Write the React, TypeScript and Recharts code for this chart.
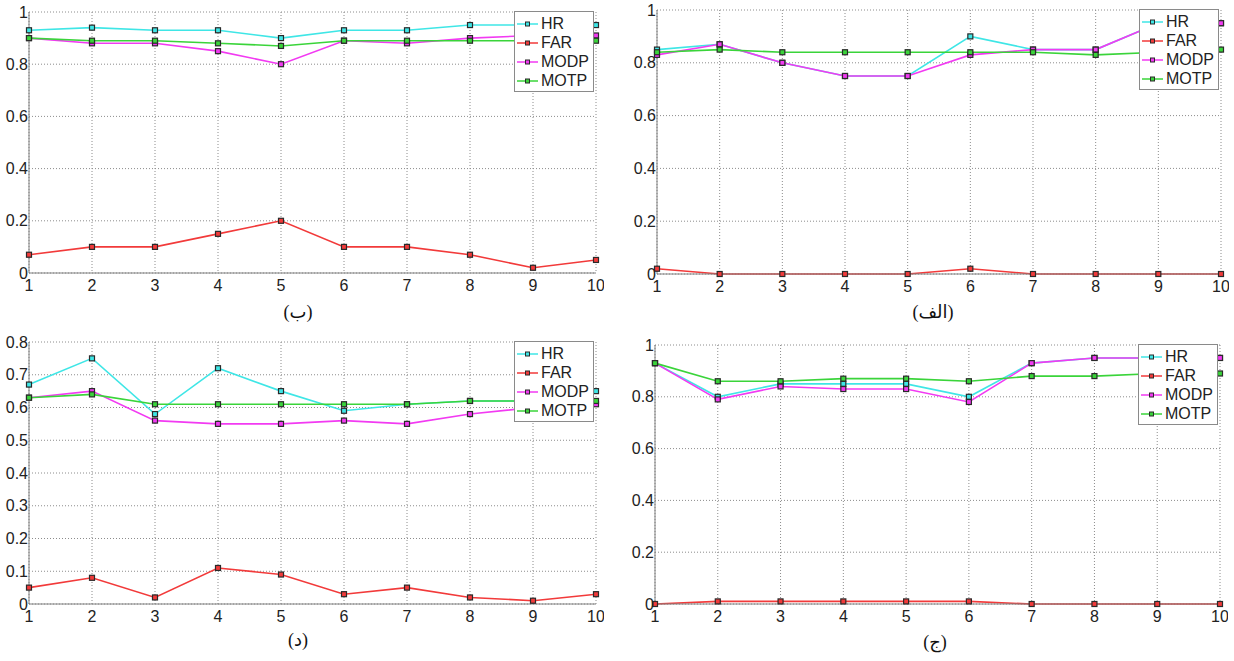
import React from "react";
import { LineChart, Line, XAxis, YAxis, CartesianGrid, Legend } from "recharts";

// iteration index on the x axis
const steps = [1, 2, 3, 4, 5, 6, 7, 8, 9, 10];
const xTicks = [1, 2, 3, 4, 5, 6, 7, 8, 9, 10];
const yTicksUnit = [0, 0.2, 0.4, 0.6, 0.8, 1];
const yTicksTenth = [0, 0.1, 0.2, 0.3, 0.4, 0.5, 0.6, 0.7, 0.8];

// panel (ب) top left
const bHR = [0.93, 0.94, 0.93, 0.93, 0.9, 0.93, 0.93, 0.95, 0.95, 0.95];
const bFAR = [0.07, 0.1, 0.1, 0.15, 0.2, 0.1, 0.1, 0.07, 0.02, 0.05];
const bMODP = [0.9, 0.88, 0.88, 0.85, 0.8, 0.89, 0.88, 0.9, 0.91, 0.91];
const bMOTP = [0.9, 0.89, 0.89, 0.88, 0.87, 0.89, 0.89, 0.89, 0.89, 0.89];

// panel (الف) top right
const aHR = [0.85, 0.87, 0.8, 0.75, 0.75, 0.9, 0.85, 0.85, 0.95, 0.95];
const aFAR = [0.02, 0, 0, 0, 0, 0.02, 0, 0, 0, 0];
const aMODP = [0.83, 0.87, 0.8, 0.75, 0.75, 0.83, 0.85, 0.85, 0.95, 0.95];
const aMOTP = [0.84, 0.85, 0.84, 0.84, 0.84, 0.84, 0.84, 0.83, 0.84, 0.85];

// panel (د) bottom left
const dHR = [0.67, 0.75, 0.58, 0.72, 0.65, 0.59, 0.61, 0.62, 0.62, 0.65];
const dFAR = [0.05, 0.08, 0.02, 0.11, 0.09, 0.03, 0.05, 0.02, 0.01, 0.03];
const dMODP = [0.63, 0.65, 0.56, 0.55, 0.55, 0.56, 0.55, 0.58, 0.6, 0.61];
const dMOTP = [0.63, 0.64, 0.61, 0.61, 0.61, 0.61, 0.61, 0.62, 0.62, 0.62];

// panel (ج) bottom right
const jHR = [0.93, 0.8, 0.85, 0.85, 0.85, 0.8, 0.93, 0.95, 0.95, 0.95];
const jFAR = [0, 0.01, 0.01, 0.01, 0.01, 0.01, 0, 0, 0, 0];
const jMODP = [0.93, 0.79, 0.84, 0.83, 0.83, 0.78, 0.93, 0.95, 0.95, 0.95];
const jMOTP = [0.93, 0.86, 0.86, 0.87, 0.87, 0.86, 0.88, 0.88, 0.89, 0.89];

const SERIES = [
  { key: "HR", color: "#3fe6e6" },
  { key: "FAR", color: "#f23a3a" },
  { key: "MODP", color: "#f23af2" },
  { key: "MOTP", color: "#3ad43a" },
];

const YAXIS_W = 40;
const M_TOP = 8;
const M_RIGHT = 8;
const XAXIS_H = 26;
const TICK_FONT = "'Liberation Sans', Arial, sans-serif";

function buildRows(hr: number[], far: number[], modp: number[], motp: number[]) {
  return steps.map((x, i) => ({ x, HR: hr[i], FAR: far[i], MODP: modp[i], MOTP: motp[i] }));
}

const squareDot = (color: string) => (props: any) => {
  const { cx, cy, index } = props;
  if (cx == null || cy == null) return <g key={index} />;
  return (
    <rect
      key={index}
      x={cx - 2.5}
      y={cy - 2.5}
      width={5}
      height={5}
      fill={color}
      stroke="#2a2a2a"
      strokeWidth={1.2}
    />
  );
};

const LegendBox = () => (
  <div
    style={{
      border: "1px solid #8a8a8a",
      background: "#fff",
      padding: "2px 4px 1px 0px",
      fontFamily: TICK_FONT,
      fontSize: 16,
      color: "#222",
    }}
  >
    {SERIES.map((s) => (
      <div key={s.key} style={{ display: "flex", alignItems: "center", height: 19 }}>
        <svg width={25} height={10} style={{ marginRight: 1 }}>
          <line x1={2} y1={5} x2={23} y2={5} stroke={s.color} strokeWidth={1.5} />
          <rect x={10.5} y={3} width={4} height={4} fill={s.color} stroke="#2a2a2a" strokeWidth={1} />
        </svg>
        <span>{s.key}</span>
      </div>
    ))}
  </div>
);

interface PanelProps {
  x0: number;
  x1: number;
  yTop: number;
  yBottom: number;
  yMax: number;
  yTicks: number[];
  rows: any[];
  caption: string;
  captionX: number;
  captionY: number;
}

function Panel({ x0, x1, yTop, yBottom, yMax, yTicks, rows, caption, captionX, captionY }: PanelProps) {
  const width = YAXIS_W + (x1 - x0) + M_RIGHT;
  const height = M_TOP + (yBottom - yTop) + XAXIS_H;
  return (
    <>
      <div style={{ position: "absolute", left: x0 - YAXIS_W, top: yTop - M_TOP }}>
        <LineChart
          width={width}
          height={height}
          data={rows}
          margin={{ top: M_TOP, right: M_RIGHT, bottom: 0, left: 0 }}
        >
          <CartesianGrid stroke="#8c8c8c" strokeDasharray="1 2" strokeWidth={1} />
          <XAxis
            dataKey="x"
            type="number"
            domain={[1, 10]}
            ticks={xTicks}
            height={XAXIS_H}
            tickSize={0}
            tickMargin={7}
            axisLine={{ stroke: "#808080" }}
            tick={{ fill: "#222", fontSize: 16, fontFamily: TICK_FONT }}
          />
          <XAxis
            xAxisId="top"
            orientation="top"
            type="number"
            domain={[1, 10]}
            height={0}
            tick={false}
            tickLine={false}
            axisLine={{ stroke: "#808080" }}
          />
          <YAxis
            type="number"
            domain={[0, yMax]}
            ticks={yTicks}
            width={YAXIS_W}
            tickSize={0}
            tickMargin={1}
            interval={0}
            tickFormatter={(v: number) => String(+v.toFixed(1))}
            axisLine={{ stroke: "#808080" }}
            tick={{ fill: "#222", fontSize: 16, fontFamily: TICK_FONT }}
          />
          <YAxis
            yAxisId="right"
            orientation="right"
            type="number"
            domain={[0, yMax]}
            width={0}
            tick={false}
            tickLine={false}
            axisLine={{ stroke: "#808080" }}
          />
          {SERIES.map((s) => (
            <Line
              key={s.key}
              type="linear"
              dataKey={s.key}
              stroke={s.color}
              strokeWidth={1.6}
              dot={squareDot(s.color)}
              activeDot={false}
              isAnimationActive={false}
            />
          ))}
          <Legend
            layout="vertical"
            align="center"
            verticalAlign="middle"
            content={() => <LegendBox />}
            wrapperStyle={{ top: M_TOP - 1, right: M_RIGHT + 2, left: "auto", bottom: "auto" }}
          />
        </LineChart>
      </div>
      <div
        dir="rtl"
        style={{
          position: "absolute",
          left: captionX - 40,
          width: 80,
          top: captionY - 12,
          textAlign: "center",
          fontFamily: "'Liberation Serif', 'DejaVu Sans', serif",
          fontSize: 18,
          color: "#111",
        }}
      >
        {caption}
      </div>
    </>
  );
}

export default function App() {
  return (
    <div
      style={{
        position: "absolute",
        left: 0,
        top: 0,
        width: 1234,
        height: 661,
        background: "#fff",
        overflow: "hidden",
      }}
    >
      <Panel
        x0={29}
        x1={596}
        yTop={12}
        yBottom={273}
        yMax={1}
        yTicks={yTicksUnit}
        rows={buildRows(bHR, bFAR, bMODP, bMOTP)}
        caption="(ب)"
        captionX={298}
        captionY={313}
      />
      <Panel
        x0={657}
        x1={1221}
        yTop={10}
        yBottom={274}
        yMax={1}
        yTicks={yTicksUnit}
        rows={buildRows(aHR, aFAR, aMODP, aMOTP)}
        caption="(الف)"
        captionX={933}
        captionY={313}
      />
      <Panel
        x0={29}
        x1={596}
        yTop={342}
        yBottom={604}
        yMax={0.8}
        yTicks={yTicksTenth}
        rows={buildRows(dHR, dFAR, dMODP, dMOTP)}
        caption="(د)"
        captionX={298}
        captionY={641}
      />
      <Panel
        x0={655}
        x1={1220}
        yTop={345}
        yBottom={604}
        yMax={1}
        yTicks={yTicksUnit}
        rows={buildRows(jHR, jFAR, jMODP, jMOTP)}
        caption="(ج)"
        captionX={935}
        captionY={643}
      />
    </div>
  );
}
